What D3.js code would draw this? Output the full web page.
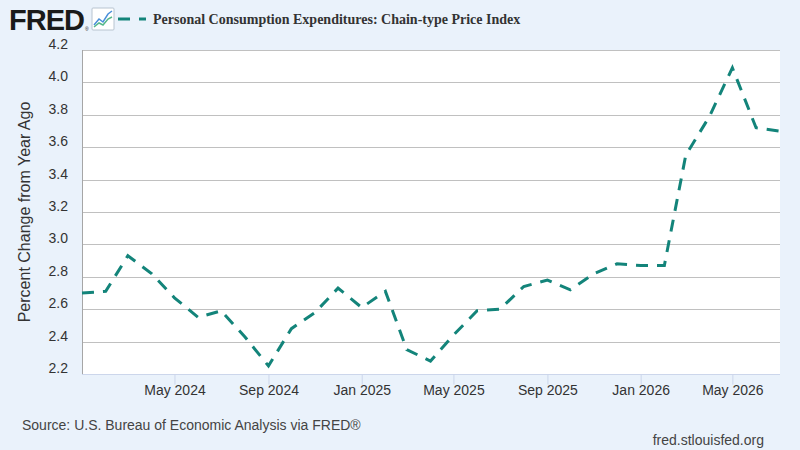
<!doctype html>
<html>
<head>
<meta charset="utf-8">
<title>PCE Price Index</title>
<script src="https://cdn.jsdelivr.net/npm/d3@7/dist/d3.min.js"></script>
<style>
  body { margin: 0; background: #eaf2fb; }
  svg { display: block; font-family: "Liberation Sans", Arial, sans-serif; }
</style>
</head>
<body>
<script>
  // monthly observations, Jan 2024 .. Jul 2026
  var months = ["2024-01","2024-02","2024-03","2024-04","2024-05","2024-06","2024-07","2024-08","2024-09","2024-10","2024-11","2024-12",
                "2025-01","2025-02","2025-03","2025-04","2025-05","2025-06","2025-07","2025-08","2025-09","2025-10","2025-11","2025-12",
                "2026-01","2026-02","2026-03","2026-04","2026-05","2026-06","2026-07"];
  var pce = [2.70, 2.71, 2.93, 2.82, 2.67, 2.55, 2.59, 2.43, 2.25, 2.48, 2.58, 2.73,
             2.61, 2.71, 2.35, 2.28, 2.44, 2.59, 2.60, 2.74, 2.78, 2.72, 2.82, 2.88,
             2.87, 2.87, 3.55, 3.79, 4.09, 3.72, 3.70];
  var xTicks = ["2024-05","2024-09","2025-01","2025-05","2025-09","2026-01","2026-05"];
  var yTicks = [2.2, 2.4, 2.6, 2.8, 3.0, 3.2, 3.4, 3.6, 3.8, 4.0, 4.2];

  var title = "Personal Consumption Expenditures: Chain-type Price Index";
  var yTitle = "Percent Change from Year Ago";
  var lineColor = "#13847a";

  var W = 800, H = 450;
  var plotL = 82, plotR = 779, plotT = 50, plotB = 374;
  var parse = d3.timeParse("%Y-%m");
  var data = months.map(function(m, i) { return {date: parse(m), value: pce[i]}; });

  var svg = d3.select("body").append("svg").attr("width", W).attr("height", H);

  var x = d3.scaleTime()
      .domain([parse(months[0]), parse(months[months.length - 1])])
      .range([plotL, plotR]);
  var y = d3.scaleLinear().domain([2.2, 4.2]).range([plotB, plotT]);

  // plot background
  svg.append("rect")
      .attr("x", plotL).attr("y", plotT)
      .attr("width", 780 - plotL).attr("height", plotB - plotT)
      .attr("fill", "#fff");

  // grid lines
  svg.append("g").selectAll("line")
      .data(yTicks)
      .enter().append("line")
      .attr("x1", plotL).attr("x2", 780)
      .attr("y1", function(d) { return Math.round(y(d)) + 0.5; })
      .attr("y2", function(d) { return Math.round(y(d)) + 0.5; })
      .attr("stroke", "#c0c0c0")
      .attr("stroke-width", 1);

  // y labels
  svg.append("g").selectAll("text")
      .data(yTicks)
      .enter().append("text")
      .attr("x", 68)
      .attr("y", function(d) { return y(d) - 6; })
      .attr("dy", "0.35em")
      .attr("text-anchor", "end")
      .attr("font-size", 14)
      .attr("fill", "#333")
      .text(function(d) { return d3.format(".1f")(d); });

  // left axis line
  svg.append("line")
      .attr("x1", plotL + 0.5).attr("x2", plotL + 0.5)
      .attr("y1", plotT).attr("y2", plotB)
      .attr("stroke", "#a6a6a6");

  // x axis
  var xAxis = d3.axisBottom(x)
      .tickValues(xTicks.map(parse))
      .tickSize(10)
      .tickPadding(1)
      .tickFormat(d3.timeFormat("%b %Y"));
  var gx = svg.append("g")
      .attr("transform", "translate(0," + (plotB + 0.5) + ")")
      .call(xAxis);
  gx.select(".domain").attr("d", "M" + plotL + ",0H780").attr("stroke", "#ccd6eb");
  gx.selectAll(".tick line").attr("stroke", "#ccd6eb");
  gx.selectAll(".tick text")
      .attr("font-family", "Liberation Sans, Arial, sans-serif")
      .attr("font-size", 14)
      .attr("fill", "#333");

  // series line
  var line = d3.line()
      .x(function(d) { return x(d.date); })
      .y(function(d) { return y(d.value); });
  svg.append("path")
      .datum(data)
      .attr("d", line)
      .attr("fill", "none")
      .attr("stroke", lineColor)
      .attr("stroke-width", 3)
      .attr("stroke-dasharray", "12,9");

  // y title
  svg.append("text")
      .attr("transform", "translate(30," + ((plotT + plotB) / 2) + ") rotate(-90)")
      .attr("text-anchor", "middle")
      .attr("font-size", 16)
      .attr("fill", "#333")
      .text(yTitle);

  // header: FRED logo, icon, legend
  svg.append("text")
      .attr("x", 9).attr("y", 30)
      .attr("font-family", "Liberation Sans, Arial, sans-serif")
      .attr("font-weight", "bold")
      .attr("font-size", 29)
      .attr("letter-spacing", -1)
      .attr("fill", "#1a1a1a")
      .text("FRED");
  svg.append("text")
      .attr("x", 85).attr("y", 31)
      .attr("font-size", 5)
      .attr("fill", "#1a1a1a")
      .text("®");

  var icon = svg.append("g").attr("transform", "translate(92,8)");
  icon.append("rect")
      .attr("width", 22).attr("height", 22)
      .attr("rx", 1)
      .attr("fill", "#fff")
      .attr("stroke", "#b8c4d0");
  icon.append("polyline")
      .attr("points", "2,17 7,11 11,14 16,6 20,3")
      .attr("fill", "none").attr("stroke", "#4a8fd9").attr("stroke-width", 1.5);
  icon.append("polyline")
      .attr("points", "2,19 7,15 11,17 16,11 20,9")
      .attr("fill", "none").attr("stroke", "#55b88a").attr("stroke-width", 1.5);

  svg.append("line")
      .attr("x1", 118).attr("x2", 146)
      .attr("y1", 19).attr("y2", 19)
      .attr("stroke", lineColor)
      .attr("stroke-width", 3)
      .attr("stroke-dasharray", "12,9");

  svg.append("text")
      .attr("x", 153).attr("y", 24)
      .attr("font-family", "Liberation Serif, Times New Roman, serif")
      .attr("font-weight", "bold")
      .attr("font-size", 14)
      .attr("fill", "#333")
      .text(title);

  // footer
  svg.append("text")
      .attr("x", 22).attr("y", 430)
      .attr("font-size", 14)
      .attr("fill", "#444")
      .text("Source: U.S. Bureau of Economic Analysis via FRED®");
  svg.append("text")
      .attr("x", 764).attr("y", 445)
      .attr("text-anchor", "end")
      .attr("font-size", 14)
      .attr("fill", "#444")
      .text("fred.stlouisfed.org");
</script>
</body>
</html>
